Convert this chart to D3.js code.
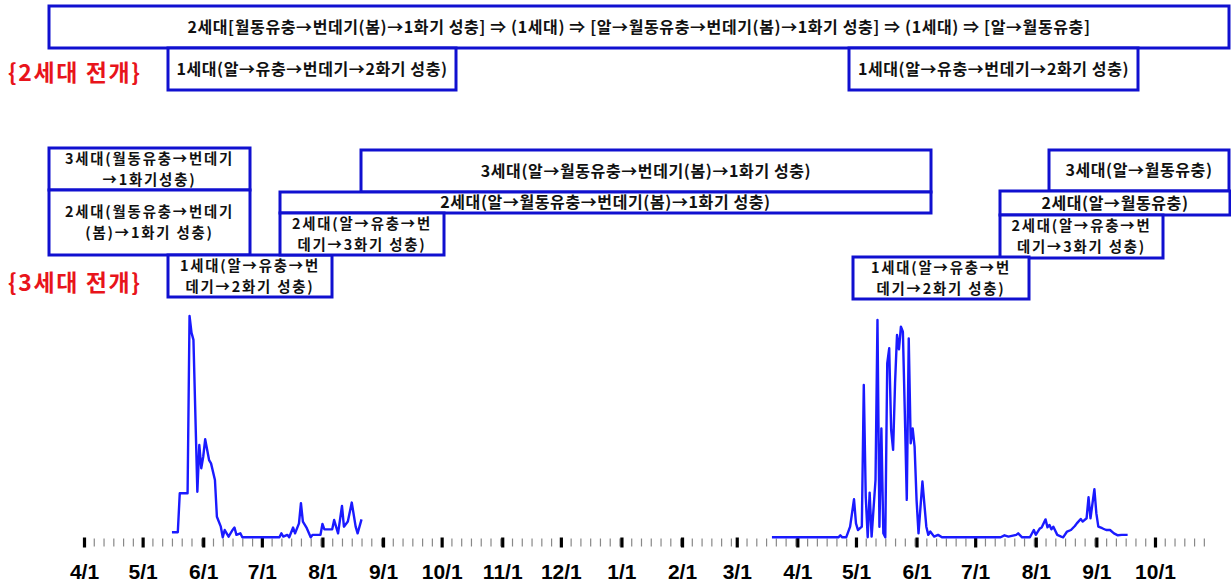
<!DOCTYPE html>
<html><head><meta charset="utf-8">
<script src="https://cdn.jsdelivr.net/npm/d3@7"></script>
<style>html,body{margin:0;padding:0;background:#fff;} svg{display:block;}</style>
</head><body>
<svg id="chart" width="1231" height="584"></svg>
<script>
// ---------- data ----------
const dates1 = ["2018-05-16","2018-05-19","2018-05-20","2018-05-24","2018-05-25","2018-05-26","2018-05-27","2018-05-29","2018-05-30","2018-05-31","2018-06-01","2018-06-02","2018-06-04","2018-06-05","2018-06-07","2018-06-08","2018-06-10","2018-06-11","2018-06-12","2018-06-13","2018-06-14","2018-06-16","2018-06-17","2018-06-18","2018-06-20","2018-06-21","2018-07-10","2018-07-11","2018-07-12","2018-07-14","2018-07-15","2018-07-17","2018-07-18","2018-07-20","2018-07-21","2018-07-22","2018-07-24","2018-07-26","2018-07-27","2018-07-31","2018-08-01","2018-08-02","2018-08-06","2018-08-07","2018-08-09","2018-08-11","2018-08-12","2018-08-14","2018-08-16","2018-08-18","2018-08-19","2018-08-21"];
const values1 = [2.3,2.3,19.9,19.9,100,92.5,89.2,20.6,41.7,31.2,36.4,44.3,34.9,33.4,25.9,9.3,4.8,0,3.3,1.8,0.3,3.3,4.4,1.1,1.8,0,0,1.8,0.3,1.1,0,4.4,1.8,6.3,15.4,7.1,4.1,0,1.1,1.1,6.0,3.6,3.6,7.8,1.8,14.2,4.8,7.1,15.7,4.8,1.8,8.1];

const dates2 = ["2019-03-19","2019-04-22","2019-04-23","2019-04-24","2019-04-26","2019-04-28","2019-04-30","2019-05-01","2019-05-02","2019-05-04","2019-05-05","2019-05-06","2019-05-07","2019-05-08","2019-05-09","2019-05-11","2019-05-12","2019-05-13","2019-05-14","2019-05-15","2019-05-16","2019-05-17","2019-05-18","2019-05-19","2019-05-20","2019-05-21","2019-05-22","2019-05-23","2019-05-24","2019-05-25","2019-05-26","2019-05-27","2019-05-28","2019-05-29","2019-05-30","2019-05-31","2019-06-01","2019-06-02","2019-06-04","2019-06-06","2019-06-07","2019-06-08","2019-06-10","2019-06-12","2019-06-14","2019-07-14","2019-07-16","2019-07-18","2019-07-22","2019-07-23","2019-07-25","2019-07-29","2019-07-31","2019-08-01","2019-08-03","2019-08-04","2019-08-06","2019-08-07","2019-08-08","2019-08-09","2019-08-10","2019-08-12","2019-08-14","2019-08-15","2019-08-17","2019-08-19","2019-08-21","2019-08-22","2019-08-24","2019-08-25","2019-08-27","2019-08-28","2019-08-29","2019-08-31","2019-09-01","2019-09-02","2019-09-04","2019-09-06","2019-09-08","2019-09-10","2019-09-12","2019-09-14","2019-09-17"];
const values2 = [0,0,0.9,0,0,4.8,17.2,6.3,3.3,4.8,68.8,18.4,0,20.2,0.3,25.9,98.2,4.8,49.2,1.8,0,78.6,85.4,48.5,39.5,69.6,91.4,84.9,95.2,92.9,56,16.9,89.8,42.5,49.2,40.9,16.9,1.8,25.2,4.8,1.1,2.6,0.3,1.1,0,0,0.9,0.3,1.1,1.8,0,0,3.3,1.1,3.9,4.4,8.1,4.5,5.6,3.6,4.8,1.1,0.3,0,2.6,3.3,5.1,6.3,8.3,7.1,8.6,18.1,8.6,21.7,10.8,4.8,4.1,3.3,3.3,1.8,0.9,1.1,1.1];

const tickLabels = ["4/1","5/1","6/1","7/1","8/1","9/1","10/1","11/1","12/1","1/1","2/1","3/1","4/1","5/1","6/1","7/1","8/1","9/1","10/1"];

const topText = "2세대[월동유충→번데기(봄)→1화기 성충] ⇒ (1세대) ⇒ [알→월동유충→번데기(봄)→1화기 성충] ⇒ (1세대) ⇒ [알→월동유충]";
const gen1Text = "1세대(알→유충→번데기→2화기 성충)";
const sectionLabels = ["{2세대 전개}", "{3세대 전개}"];
const stageTexts = [
  ["3세대(월동유충→번데기", "→1화기성충)"],
  ["2세대(월동유충→번데기", "(봄)→1화기 성충)"],
  ["1세대(알→유충→번", "데기→2화기 성충)"],
  ["3세대(알→월동유충→번데기(봄)→1화기 성충)"],
  ["2세대(알→월동유충→번데기(봄)→1화기 성충)"],
  ["2세대(알→유충→번", "데기→3화기 성충)"],
  ["3세대(알→월동유충)"],
  ["2세대(알→월동유충)"],
  ["2세대(알→유충→번", "데기→3화기 성충)"],
  ["1세대(알→유충→번", "데기→2화기 성충)"]
];

// ---------- layout ----------
const parse = d3.timeParse("%Y-%m-%d");
const svg = d3.select("#chart");
const startDate = parse("2018-04-01"), endDate = parse("2019-10-27");
const x = d3.scaleTime().domain([startDate, endDate]).range([84, 1205.8]);
const y = d3.scaleLinear().domain([0, 100]).range([537.3, 316]);

const KFONT = "'Noto Sans CJK KR', 'Noto Sans', sans-serif";
const BOX_STROKE = "#1010d0";

// annotation boxes [x0, y0, x1, y1, text lines]
const boxLayout = [
  [49, 6, 1229, 48, [topText]],
  [168, 48, 456, 90, [gen1Text]],
  [849, 48, 1138, 90, [gen1Text]],
  [49, 148, 250, 190, stageTexts[0]],
  [49, 190, 250, 255, stageTexts[1]],
  [168, 255, 332, 297, stageTexts[2]],
  [361, 150, 931, 192, stageTexts[3]],
  [280, 192, 931, 213, stageTexts[4]],
  [280, 213, 444, 255, stageTexts[5]],
  [1049, 150, 1229, 191, stageTexts[6]],
  [1000, 191, 1230, 215, stageTexts[7]],
  [1000, 215, 1163, 258, stageTexts[8]],
  [853, 257, 1029, 299, stageTexts[9]]
];

const gBoxes = svg.append("g");
boxLayout.forEach(([x0, y0, x1, y1, lines]) => {
  gBoxes.append("rect")
    .attr("x", x0).attr("y", y0).attr("width", x1 - x0).attr("height", y1 - y0)
    .attr("fill", "#fff").attr("stroke", BOX_STROKE).attr("stroke-width", 3);
  const cx = (x0 + x1) / 2, cy = (y0 + y1) / 2;
  const multi = lines.length > 1;
  const fs = multi ? 14.4 : 16;
  const lh = multi ? 21 : 0;
  lines.forEach((t, i) => {
    gBoxes.append("text")
      .attr("x", cx).attr("y", cy + (i - (lines.length - 1) / 2) * lh)
      .attr("dy", "0.36em")
      .attr("text-anchor", "middle")
      .attr("font-family", KFONT).attr("font-weight", 700).attr("font-size", fs)
      .attr("letter-spacing", multi ? "1.8px" : "0.6px")
      .attr("fill", "#111").text(t);
  });
});

// section labels
[[73, sectionLabels[0]], [283, sectionLabels[1]]].forEach(([cy, t]) => {
  svg.append("text").attr("x", 8).attr("y", cy).attr("dy", "0.36em")
    .attr("font-family", KFONT).attr("font-weight", 700).attr("font-size", 23)
    .attr("letter-spacing", "1.6px")
    .attr("fill", "#e8141b").text(t);
});

// minor ticks
const minorTicks = d3.timeDay.every(5).range(startDate, endDate).filter(d => d.getDate() !== 1);
const minorAxis = d3.axisBottom(x).tickValues(minorTicks).tickSize(8).tickFormat("");
const gMinor = svg.append("g").attr("transform", "translate(0,538.5)").call(minorAxis);
gMinor.select(".domain").remove();
gMinor.selectAll(".tick line").attr("stroke", "#888").attr("stroke-width", 1.2);

// major ticks + labels
const majorTicks = d3.timeMonth.range(startDate, endDate);
const majorAxis = d3.axisBottom(x).tickValues(majorTicks).tickSize(10).tickPadding(17)
  .tickFormat((d, i) => tickLabels[i]);
const gMajor = svg.append("g").attr("transform", "translate(0,537.5)").call(majorAxis);
gMajor.select(".domain").remove();
gMajor.selectAll(".tick line").attr("stroke", "#000").attr("stroke-width", 3.2);
gMajor.selectAll(".tick text")
  .attr("font-family", "'Liberation Sans', Arial, sans-serif")
  .attr("font-weight", 700).attr("font-size", 21).attr("fill", "#000");

// lines
const line = d3.line().x(d => x(d[0])).y(d => y(d[1])).curve(d3.curveLinear);
[[dates1, values1], [dates2, values2]].forEach(([ds, vs]) => {
  const pts = ds.map((d, i) => [parse(d), vs[i]]);
  svg.append("path").datum(pts).attr("d", line)
    .attr("fill", "none").attr("stroke", "#1a1aff").attr("stroke-width", 2.4)
    .attr("stroke-linejoin", "round");
});
</script>
</body></html>
